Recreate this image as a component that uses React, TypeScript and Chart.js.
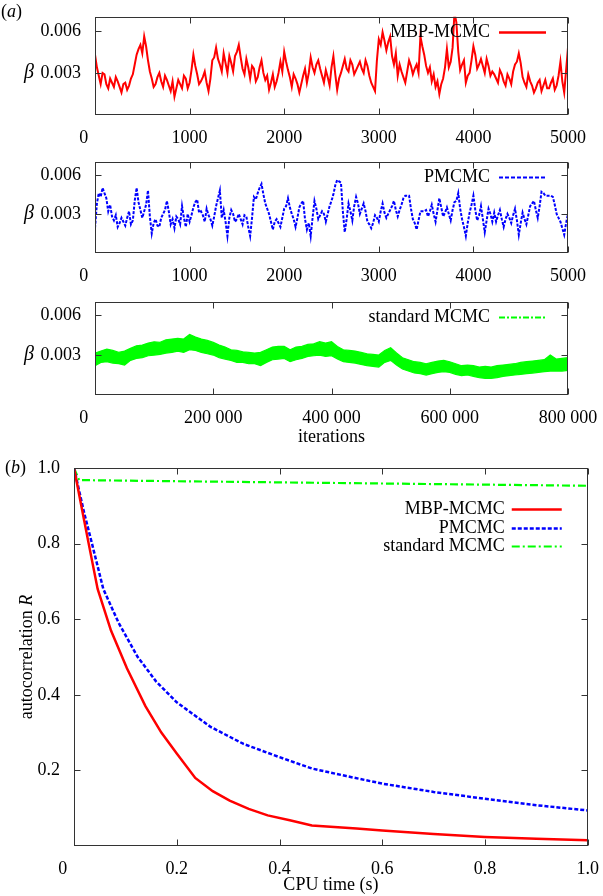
import React, { useEffect, useRef } from "react";
import { Chart, registerables } from "chart.js";

Chart.register(...registerables);

const FONT_FAMILY = "'Liberation Serif', 'Times New Roman', Times, serif";
const RED = "#ff0000";
const BLUE = "#0000ff";
const GREEN = "#00ff00";
const FRAME = "#333333";
const PAGE_W = 603;
const TICK_LEN = 6;

// ---------- Panel (a): traces of beta (values in units of 1e-3) ----------
const MBP_ITER_STEP = 20; // iterations between samples, 0..5000
const MBP_BETA_E3 = [
  4.3, 3.4, 2.8, 2.2, 3.0, 2.9, 2.2, 1.9, 2.6, 2.3,
  2.0, 2.7, 2.4, 2.0, 1.6, 2.2, 2.3, 1.8, 2.1, 2.6,
  2.9, 3.6, 4.3, 4.7, 5.0, 4.4, 5.6, 4.9, 3.9, 3.1,
  2.6, 2.0, 2.2, 2.7, 3.0, 2.4, 2.0, 2.8, 2.5, 2.1,
  1.7, 2.4, 1.3, 1.9, 2.5, 2.2, 1.9, 2.8, 2.6, 1.9,
  2.3, 3.2, 4.3, 3.5, 2.9, 2.2, 2.4, 2.7, 3.1, 2.3,
  1.7, 2.6, 3.9, 4.1, 4.8, 4.0, 3.6, 3.1, 4.4, 3.7,
  3.0, 4.2, 3.7, 3.1, 4.2, 4.5, 5.0, 4.1, 3.3, 2.9,
  4.0, 3.4, 2.6, 3.5, 3.3, 2.4, 2.7, 3.4, 3.9, 3.0,
  2.5, 2.8, 1.8, 2.3, 2.9, 2.0, 2.4, 3.0, 3.8, 3.1,
  4.5, 3.8, 3.2, 2.7, 2.0, 2.9, 2.6, 2.2, 1.6, 2.2,
  2.8, 3.3, 2.3, 3.0, 4.1, 3.4, 3.0, 3.6, 3.9, 3.3,
  2.8, 2.3, 3.2, 2.7, 2.1, 3.4, 4.2, 2.9, 1.8, 2.6,
  3.0, 3.5, 4.0, 3.3, 3.1, 3.9, 3.6, 2.9, 3.2, 3.5,
  3.8, 3.3, 3.0, 3.9, 3.5, 2.8, 2.3, 2.0, 1.7, 3.9,
  5.4, 5.0, 5.9, 5.3, 4.6, 5.2, 5.6, 4.2, 3.6, 4.4,
  2.8, 3.6, 3.1, 2.7, 2.3, 3.1, 3.9, 3.5, 2.9, 3.3,
  3.6, 3.0, 5.6, 4.9, 4.3, 3.5, 3.0, 3.4, 2.4, 2.9,
  2.0, 2.4, 1.5, 2.2, 2.6, 3.4, 4.7, 3.4, 3.8, 4.8,
  7.3, 6.6, 4.5, 3.2, 3.6, 3.9, 2.3, 2.8, 3.0, 3.9,
  4.9, 4.3, 3.3, 3.6, 4.0, 3.5, 3.0, 4.0, 3.5, 2.8,
  3.1, 2.9, 2.6, 2.3, 3.2, 2.9, 2.4, 2.1, 2.9, 2.6,
  2.2, 3.1, 3.6, 3.8, 4.4, 3.7, 2.7, 2.3, 2.0, 2.9,
  2.4, 2.1, 1.6, 1.9, 2.3, 2.5, 1.7, 2.1, 2.5, 1.9,
  1.9, 2.3, 2.6, 1.8, 2.1, 2.8, 3.8, 2.4, 1.6, 3.2,
  4.8,
];

const PMCMC_ITER_STEP = 20; // 0..5000
const PMCMC_BETA_E3 = [
  1.9, 3.8, 4.6, 4.3, 5.0, 4.6, 4.2, 3.2, 3.7, 2.8,
  2.5, 2.9, 2.0, 2.3, 2.7, 2.4, 2.1, 2.7, 3.2, 2.2,
  2.5, 4.0, 5.0, 3.9, 3.3, 2.7, 3.2, 3.7, 4.8, 2.8,
  1.5, 2.3, 2.6, 2.1, 2.0, 2.7, 3.0, 3.3, 4.0, 3.2,
  2.2, 2.6, 1.9, 2.8, 2.6, 2.2, 3.6, 2.7, 2.0, 3.0,
  2.4, 2.9, 3.5, 3.9, 4.1, 3.1, 3.2, 2.9, 2.4, 3.4,
  2.9, 2.6, 2.1, 2.8, 3.6, 4.2, 4.8, 2.7, 3.3, 2.4,
  1.3, 2.7, 3.3, 3.0, 2.4, 2.6, 3.0, 2.6, 2.2, 2.9,
  2.8, 2.0, 1.3, 2.7, 4.3, 4.1, 4.6, 5.0, 5.3, 4.5,
  3.8, 3.4, 3.0, 2.4, 1.8, 2.4, 2.6, 2.3, 2.0, 2.7,
  3.4, 3.6, 4.2, 3.5, 3.0, 2.6, 2.0, 2.7, 3.5, 3.8,
  4.0, 2.6, 1.8, 2.3, 1.3, 2.7, 4.0, 3.4, 2.6, 2.9,
  3.2, 3.0, 2.4, 3.0, 3.6, 4.0, 4.5, 5.2, 5.6, 5.5,
  5.4, 3.2, 1.6, 2.6, 3.8, 3.2, 2.5, 3.6, 4.3, 3.8,
  3.0, 3.4, 3.8, 3.2, 2.4, 2.2, 1.9, 2.3, 2.9, 2.7,
  2.4, 3.2, 3.8, 3.1, 2.7, 3.0, 3.3, 3.6, 4.0, 3.3,
  2.8, 3.3, 3.7, 4.2, 4.4, 4.4, 4.4, 3.4, 2.6, 2.3,
  1.8, 2.5, 3.2, 3.2, 3.2, 3.3, 2.8, 3.2, 3.7, 3.0,
  2.4, 3.3, 4.2, 3.5, 2.8, 3.1, 3.5, 3.0, 2.5, 3.3,
  3.9, 4.0, 4.6, 3.4, 2.6, 2.0, 1.3, 2.3, 3.1, 3.7,
  4.4, 3.3, 2.5, 2.9, 3.6, 2.6, 1.6, 2.5, 3.4, 3.0,
  2.4, 3.1, 2.4, 2.9, 3.3, 2.6, 2.0, 2.6, 3.0, 2.7,
  2.3, 2.9, 3.4, 2.5, 1.4, 2.3, 3.1, 2.6, 2.2, 2.9,
  3.6, 3.8, 4.0, 3.3, 2.7, 3.6, 4.7, 4.6, 4.4, 4.4,
  4.4, 4.4, 4.3, 3.7, 3.0, 2.7, 2.4, 1.9, 1.4, 2.3,
  3.0,
];

// standard MCMC: noisy band, upper and lower edges every 10 000 iterations (0..800 000)
const STD_ITER_STEP = 10000;
const STD_BETA_UPPER_E3 = [
  3.15, 3.3, 3.45, 3.35, 3.2, 3.3, 3.5, 3.7, 3.75, 3.9,
  4.0, 3.95, 4.15, 4.2, 4.25, 4.2, 4.55, 4.35, 4.2, 4.1,
  3.95, 3.75, 3.6, 3.4, 3.35, 3.25, 3.2, 3.15, 3.2, 3.4,
  3.6, 3.65, 3.65, 3.4, 3.6, 3.65, 3.8, 3.85, 4.0, 3.9,
  4.0, 3.65, 3.4, 3.35, 3.3, 3.2, 3.1, 3.05, 3.0, 3.35,
  3.55, 3.15, 2.8, 2.65, 2.5, 2.45, 2.35, 2.45, 2.55, 2.6,
  2.5, 2.35, 2.2, 2.25, 2.2, 2.1, 2.15, 2.1, 2.2, 2.25,
  2.3, 2.35, 2.45, 2.5, 2.55, 2.6, 2.65, 3.0, 2.7, 2.75, 2.8,
];
const STD_BETA_LOWER_E3 = [
  2.2, 2.45, 2.5, 2.4, 2.35, 2.25, 2.6, 2.75, 2.8, 2.95,
  3.0, 3.05, 3.15, 3.2, 3.3, 3.2, 3.4, 3.35, 3.2, 3.1,
  3.0, 2.8, 2.7, 2.6, 2.45, 2.45, 2.35, 2.35, 2.2, 2.45,
  2.65, 2.7, 2.75, 2.5, 2.65, 2.75, 2.9, 2.95, 3.0, 2.9,
  2.95, 2.7, 2.5, 2.45, 2.4, 2.3, 2.2, 2.15, 2.1, 2.45,
  2.6, 2.25, 1.95, 1.8, 1.65, 1.6, 1.5, 1.6, 1.7, 1.75,
  1.7, 1.55, 1.45, 1.5, 1.4, 1.3, 1.25, 1.25, 1.3, 1.4,
  1.45, 1.5, 1.55, 1.6, 1.65, 1.7, 1.75, 1.8, 1.8, 1.8, 1.85,
];

const TRACE_X_TICKS = [0, 1000, 2000, 3000, 4000, 5000];
const STD_X_TICKS = [0, 200000, 400000, 600000, 800000];
const BETA_Y_TICKS = [0.003, 0.006];

// ---------- Panel (b): autocorrelation vs CPU time ----------
const CPU_MBP = [0, 0.01, 0.02, 0.03, 0.046, 0.072, 0.103, 0.139, 0.17, 0.2, 0.236, 0.27, 0.303, 0.34, 0.377, 0.42, 0.463, 0.55, 0.6, 0.7, 0.8, 0.9, 1.0];
const R_MBP = [1.0, 0.93, 0.86, 0.79, 0.68, 0.57, 0.47, 0.37, 0.3, 0.245, 0.18, 0.145, 0.12, 0.098, 0.081, 0.068, 0.054, 0.046, 0.041, 0.032, 0.024, 0.019, 0.015];
const CPU_PM = [0, 0.01, 0.02, 0.035, 0.057, 0.087, 0.124, 0.16, 0.2, 0.266, 0.33, 0.4, 0.463, 0.53, 0.6, 0.7, 0.8, 0.9, 1.0];
const R_PM = [1.0, 0.94, 0.88, 0.8, 0.68, 0.59, 0.5, 0.435, 0.38, 0.315, 0.27, 0.235, 0.205, 0.185, 0.165, 0.143, 0.125, 0.108, 0.094];
const CPU_STD = [0, 0.01, 0.2, 0.4, 0.6, 0.8, 1.0];
const R_STD = [1.0, 0.968, 0.965, 0.962, 0.959, 0.956, 0.953];

const B_X_TICKS = [0, 0.2, 0.4, 0.6, 0.8, 1.0];
const B_Y_TICKS = [0.2, 0.4, 0.6, 0.8, 1.0];

// ---------- layout ----------
type Geom = { top: number; height: number; left: number; right: number; plotTop: number; plotBottom: number };
const GEOM_A1: Geom = { top: 0, height: 145, left: 95, right: 568, plotTop: 16, plotBottom: 115 };
const GEOM_A2: Geom = { top: 145, height: 140, left: 95, right: 568, plotTop: 157, plotBottom: 253 };
const GEOM_A3: Geom = { top: 285, height: 163, left: 95, right: 568, plotTop: 297, plotBottom: 395 };
const GEOM_B: Geom = { top: 448, height: 448, left: 74, right: 591, plotTop: 468, plotBottom: 846 };

const ZERO_LABEL = "0     "; // origin label sits left of the axis, as in the figure

type Part = { text: string; italic?: boolean };

function drawParts(ctx: CanvasRenderingContext2D, parts: Part[], cx: number, cy: number, size: number, rotate = false, align: "center" | "left" = "center") {
  ctx.save();
  ctx.translate(cx, cy);
  if (rotate) ctx.rotate(-Math.PI / 2);
  ctx.textBaseline = "middle";
  ctx.textAlign = "left";
  ctx.fillStyle = "#000";
  const fonts = parts.map((p) => `${p.italic ? "italic " : ""}${size}px ${FONT_FAMILY}`);
  const widths = parts.map((p, i) => {
    ctx.font = fonts[i];
    return ctx.measureText(p.text).width;
  });
  const total = widths.reduce((s, w) => s + w, 0);
  let x = align === "center" ? -total / 2 : 0;
  parts.forEach((p, i) => {
    ctx.font = fonts[i];
    ctx.fillText(p.text, x, 0);
    x += widths[i];
  });
  ctx.restore();
}

type LegendItem = { ds: number; dash?: number[]; width?: number };
type DecorCfg = {
  legend: { items: LegendItem[]; top: number; right: number; sample: number; gap: number; row: number };
  yLabel: { parts: Part[]; x: number; rotate: boolean; value?: number; size: number };
  panelLabel?: { parts: Part[]; x: number; y: number };
};

function makeDecor(cfg: DecorCfg) {
  return {
    id: "decor",
    afterDatasetsDraw(chart: any) {
      const { ctx, chartArea: a } = chart;
      const xs = chart.scales.x;
      const ys = chart.scales.y;
      ctx.save();
      ctx.setLineDash([]);
      ctx.strokeStyle = FRAME;
      ctx.lineWidth = 1;
      const L = Math.round(a.left) + 0.5;
      const R = Math.round(a.right) - 0.5;
      const T = Math.round(a.top) + 0.5;
      const B = Math.round(a.bottom) - 0.5;
      ctx.strokeRect(L, T, R - L, B - T);
      ctx.beginPath();
      for (const t of xs.ticks) {
        const p = Math.round(xs.getPixelForValue(t.value)) + 0.5;
        ctx.moveTo(p, B);
        ctx.lineTo(p, B - TICK_LEN);
        ctx.moveTo(p, T);
        ctx.lineTo(p, T + TICK_LEN);
      }
      for (const t of ys.ticks) {
        const p = Math.round(ys.getPixelForValue(t.value)) + 0.5;
        ctx.moveTo(L, p);
        ctx.lineTo(L + TICK_LEN, p);
        ctx.moveTo(R, p);
        ctx.lineTo(R - TICK_LEN, p);
      }
      ctx.stroke();

      // legend (gnuplot style: text right-aligned, sample on the right)
      const lg = cfg.legend;
      lg.items.forEach((item, row) => {
        const ds = chart.data.datasets[item.ds];
        const y = Math.round(a.top + lg.top + row * lg.row) + 0.5;
        const lineRight = a.right - lg.right;
        const lineLeft = lineRight - lg.sample;
        ctx.save();
        ctx.setLineDash(item.dash ?? ds.borderDash ?? []);
        ctx.strokeStyle = ds.borderColor;
        ctx.lineWidth = item.width ?? ds.borderWidth;
        ctx.beginPath();
        ctx.moveTo(lineLeft, y);
        ctx.lineTo(lineRight, y);
        ctx.stroke();
        ctx.restore();
        ctx.fillStyle = "#000";
        ctx.font = `18px ${FONT_FAMILY}`;
        ctx.textAlign = "right";
        ctx.textBaseline = "middle";
        ctx.fillText(ds.label, lineLeft - lg.gap, y);
      });

      const yl = cfg.yLabel;
      const ly = yl.value !== undefined ? ys.getPixelForValue(yl.value) : (a.top + a.bottom) / 2;
      drawParts(ctx, yl.parts, yl.x, ly, yl.size, yl.rotate);

      if (cfg.panelLabel) {
        drawParts(ctx, cfg.panelLabel.parts, cfg.panelLabel.x, cfg.panelLabel.y, 18, false, "left");
      }
      ctx.restore();
    },
  };
}

type AxisSpec = { min: number; max: number; ticks: number[]; format: (v: number) => string; title?: string };

const axisFont = () => ({ family: FONT_FAMILY, size: 18 });

function buildConfig(g: Geom, datasets: any[], x: AxisSpec, y: AxisSpec, decor: DecorCfg): any {
  return {
    type: "line",
    data: { datasets },
    options: {
      responsive: false,
      animation: false,
      events: [],
      layout: {
        autoPadding: false,
        padding: { left: 0, right: PAGE_W - g.right, top: g.plotTop - g.top, bottom: 0 },
      },
      plugins: { legend: { display: false }, tooltip: { enabled: false } },
      elements: { point: { radius: 0 }, line: { tension: 0 } },
      scales: {
        x: {
          type: "linear",
          min: x.min,
          max: x.max,
          afterBuildTicks: (s: any) => {
            s.ticks = x.ticks.map((v) => ({ value: v }));
          },
          afterFit: (s: any) => {
            s.height = g.top + g.height - g.plotBottom;
          },
          grid: { display: false },
          border: { display: false },
          ticks: {
            color: "#000",
            font: axisFont(),
            padding: 4,
            maxRotation: 0,
            autoSkip: false,
            callback: (v: number) => x.format(v),
          },
          title: x.title
            ? { display: true, text: x.title, color: "#000", font: axisFont(), padding: 0 }
            : { display: false },
        },
        y: {
          type: "linear",
          min: y.min,
          max: y.max,
          afterBuildTicks: (s: any) => {
            s.ticks = y.ticks.map((v) => ({ value: v }));
          },
          afterFit: (s: any) => {
            s.width = g.left;
          },
          grid: { display: false },
          border: { display: false },
          ticks: {
            color: "#000",
            font: axisFont(),
            padding: 6,
            autoSkip: false,
            callback: (v: number) => y.format(v),
          },
        },
      },
    },
    plugins: [makeDecor(decor)],
  };
}

const fmtTrace = (v: number) => (v === 0 ? ZERO_LABEL : String(v));
const fmtThousands = (v: number) => (v === 0 ? ZERO_LABEL : String(v).replace(/\B(?=(\d{3})+(?!\d))/g, " "));
const fmtBeta = (v: number) => v.toFixed(3);
const fmtOne = (v: number) => (v === 0 ? ZERO_LABEL : v.toFixed(1));

const BETA_AXIS: AxisSpec = { min: 0, max: 0.007, ticks: BETA_Y_TICKS, format: fmtBeta };
const BETA_LABEL = { parts: [{ text: "β", italic: true }], x: 29, rotate: false, value: 0.003, size: 20 };
const TRACE_LEGEND = { top: 15, right: 22, sample: 47, gap: 9, row: 18.5 };

const toPoints = (vals: number[], step: number) => vals.map((v, i) => ({ x: i * step, y: v / 1000 }));
const zipPoints = (xs: number[], ys: number[]) => xs.map((x, i) => ({ x, y: ys[i] }));

function buildA1() {
  return buildConfig(
    GEOM_A1,
    [{ label: "MBP-MCMC", data: toPoints(MBP_BETA_E3, MBP_ITER_STEP), borderColor: RED, borderWidth: 2 }],
    { min: 0, max: 5000, ticks: TRACE_X_TICKS, format: fmtTrace },
    BETA_AXIS,
    {
      legend: { ...TRACE_LEGEND, items: [{ ds: 0, width: 2.5 }] },
      yLabel: BETA_LABEL,
      panelLabel: { parts: [{ text: "(" }, { text: "a", italic: true }, { text: ")" }], x: 1, y: 12 },
    }
  );
}

function buildA2() {
  return buildConfig(
    GEOM_A2,
    [{ label: "PMCMC", data: toPoints(PMCMC_BETA_E3, PMCMC_ITER_STEP), borderColor: BLUE, borderWidth: 2, borderDash: [3, 1.5] }],
    { min: 0, max: 5000, ticks: TRACE_X_TICKS, format: fmtTrace },
    BETA_AXIS,
    { legend: { ...TRACE_LEGEND, items: [{ ds: 0, width: 2.2, dash: [4, 2] }] }, yLabel: BETA_LABEL }
  );
}

function buildA3() {
  return buildConfig(
    GEOM_A3,
    [
      { label: "standard MCMC", data: toPoints(STD_BETA_UPPER_E3, STD_ITER_STEP), borderColor: GREEN, borderWidth: 1.2, fill: false },
      {
        label: "standard MCMC (band lower edge)",
        data: toPoints(STD_BETA_LOWER_E3, STD_ITER_STEP),
        borderColor: GREEN,
        borderWidth: 1.2,
        backgroundColor: GREEN,
        fill: "-1",
      },
    ],
    { min: 0, max: 800000, ticks: STD_X_TICKS, format: fmtThousands, title: "iterations" },
    BETA_AXIS,
    { legend: { ...TRACE_LEGEND, items: [{ ds: 0, width: 2.2, dash: [6, 2, 2, 2] }] }, yLabel: BETA_LABEL }
  );
}

function buildB() {
  return buildConfig(
    GEOM_B,
    [
      { label: "MBP-MCMC", data: zipPoints(CPU_MBP, R_MBP), borderColor: RED, borderWidth: 2.5 },
      { label: "PMCMC", data: zipPoints(CPU_PM, R_PM), borderColor: BLUE, borderWidth: 2.5, borderDash: [4, 2] },
      { label: "standard MCMC", data: zipPoints(CPU_STD, R_STD), borderColor: GREEN, borderWidth: 2.2, borderDash: [8, 3, 2, 3] },
    ],
    { min: 0, max: 1.0, ticks: B_X_TICKS, format: fmtOne, title: "CPU time (s)" },
    { min: 0, max: 1.0, ticks: B_Y_TICKS, format: (v: number) => v.toFixed(1) },
    {
      legend: { items: [{ ds: 0 }, { ds: 1 }, { ds: 2 }], top: 41, right: 26, sample: 50, gap: 7, row: 18.5 },
      yLabel: { parts: [{ text: "autocorrelation " }, { text: "R", italic: true }], x: 27, rotate: true, size: 18 },
      panelLabel: { parts: [{ text: "(" }, { text: "b", italic: true }, { text: ")" }], x: 5, y: 20 },
    }
  );
}

function PanelCanvas({ geom, build }: { geom: Geom; build: () => any }) {
  const ref = useRef<HTMLCanvasElement | null>(null);
  useEffect(() => {
    if (!ref.current) return;
    const chart = new Chart(ref.current, build());
    return () => chart.destroy();
  }, []);
  return (
    <canvas
      ref={ref}
      width={PAGE_W}
      height={geom.height}
      style={{ position: "absolute", left: 0, top: geom.top, width: PAGE_W, height: geom.height, display: "block" }}
    />
  );
}

export default function App() {
  return (
    <div style={{ position: "absolute", left: 0, top: 0, width: PAGE_W, height: 896, background: "#fff", overflow: "hidden" }}>
      <PanelCanvas geom={GEOM_A1} build={buildA1} />
      <PanelCanvas geom={GEOM_A2} build={buildA2} />
      <PanelCanvas geom={GEOM_A3} build={buildA3} />
      <PanelCanvas geom={GEOM_B} build={buildB} />
    </div>
  );
}
